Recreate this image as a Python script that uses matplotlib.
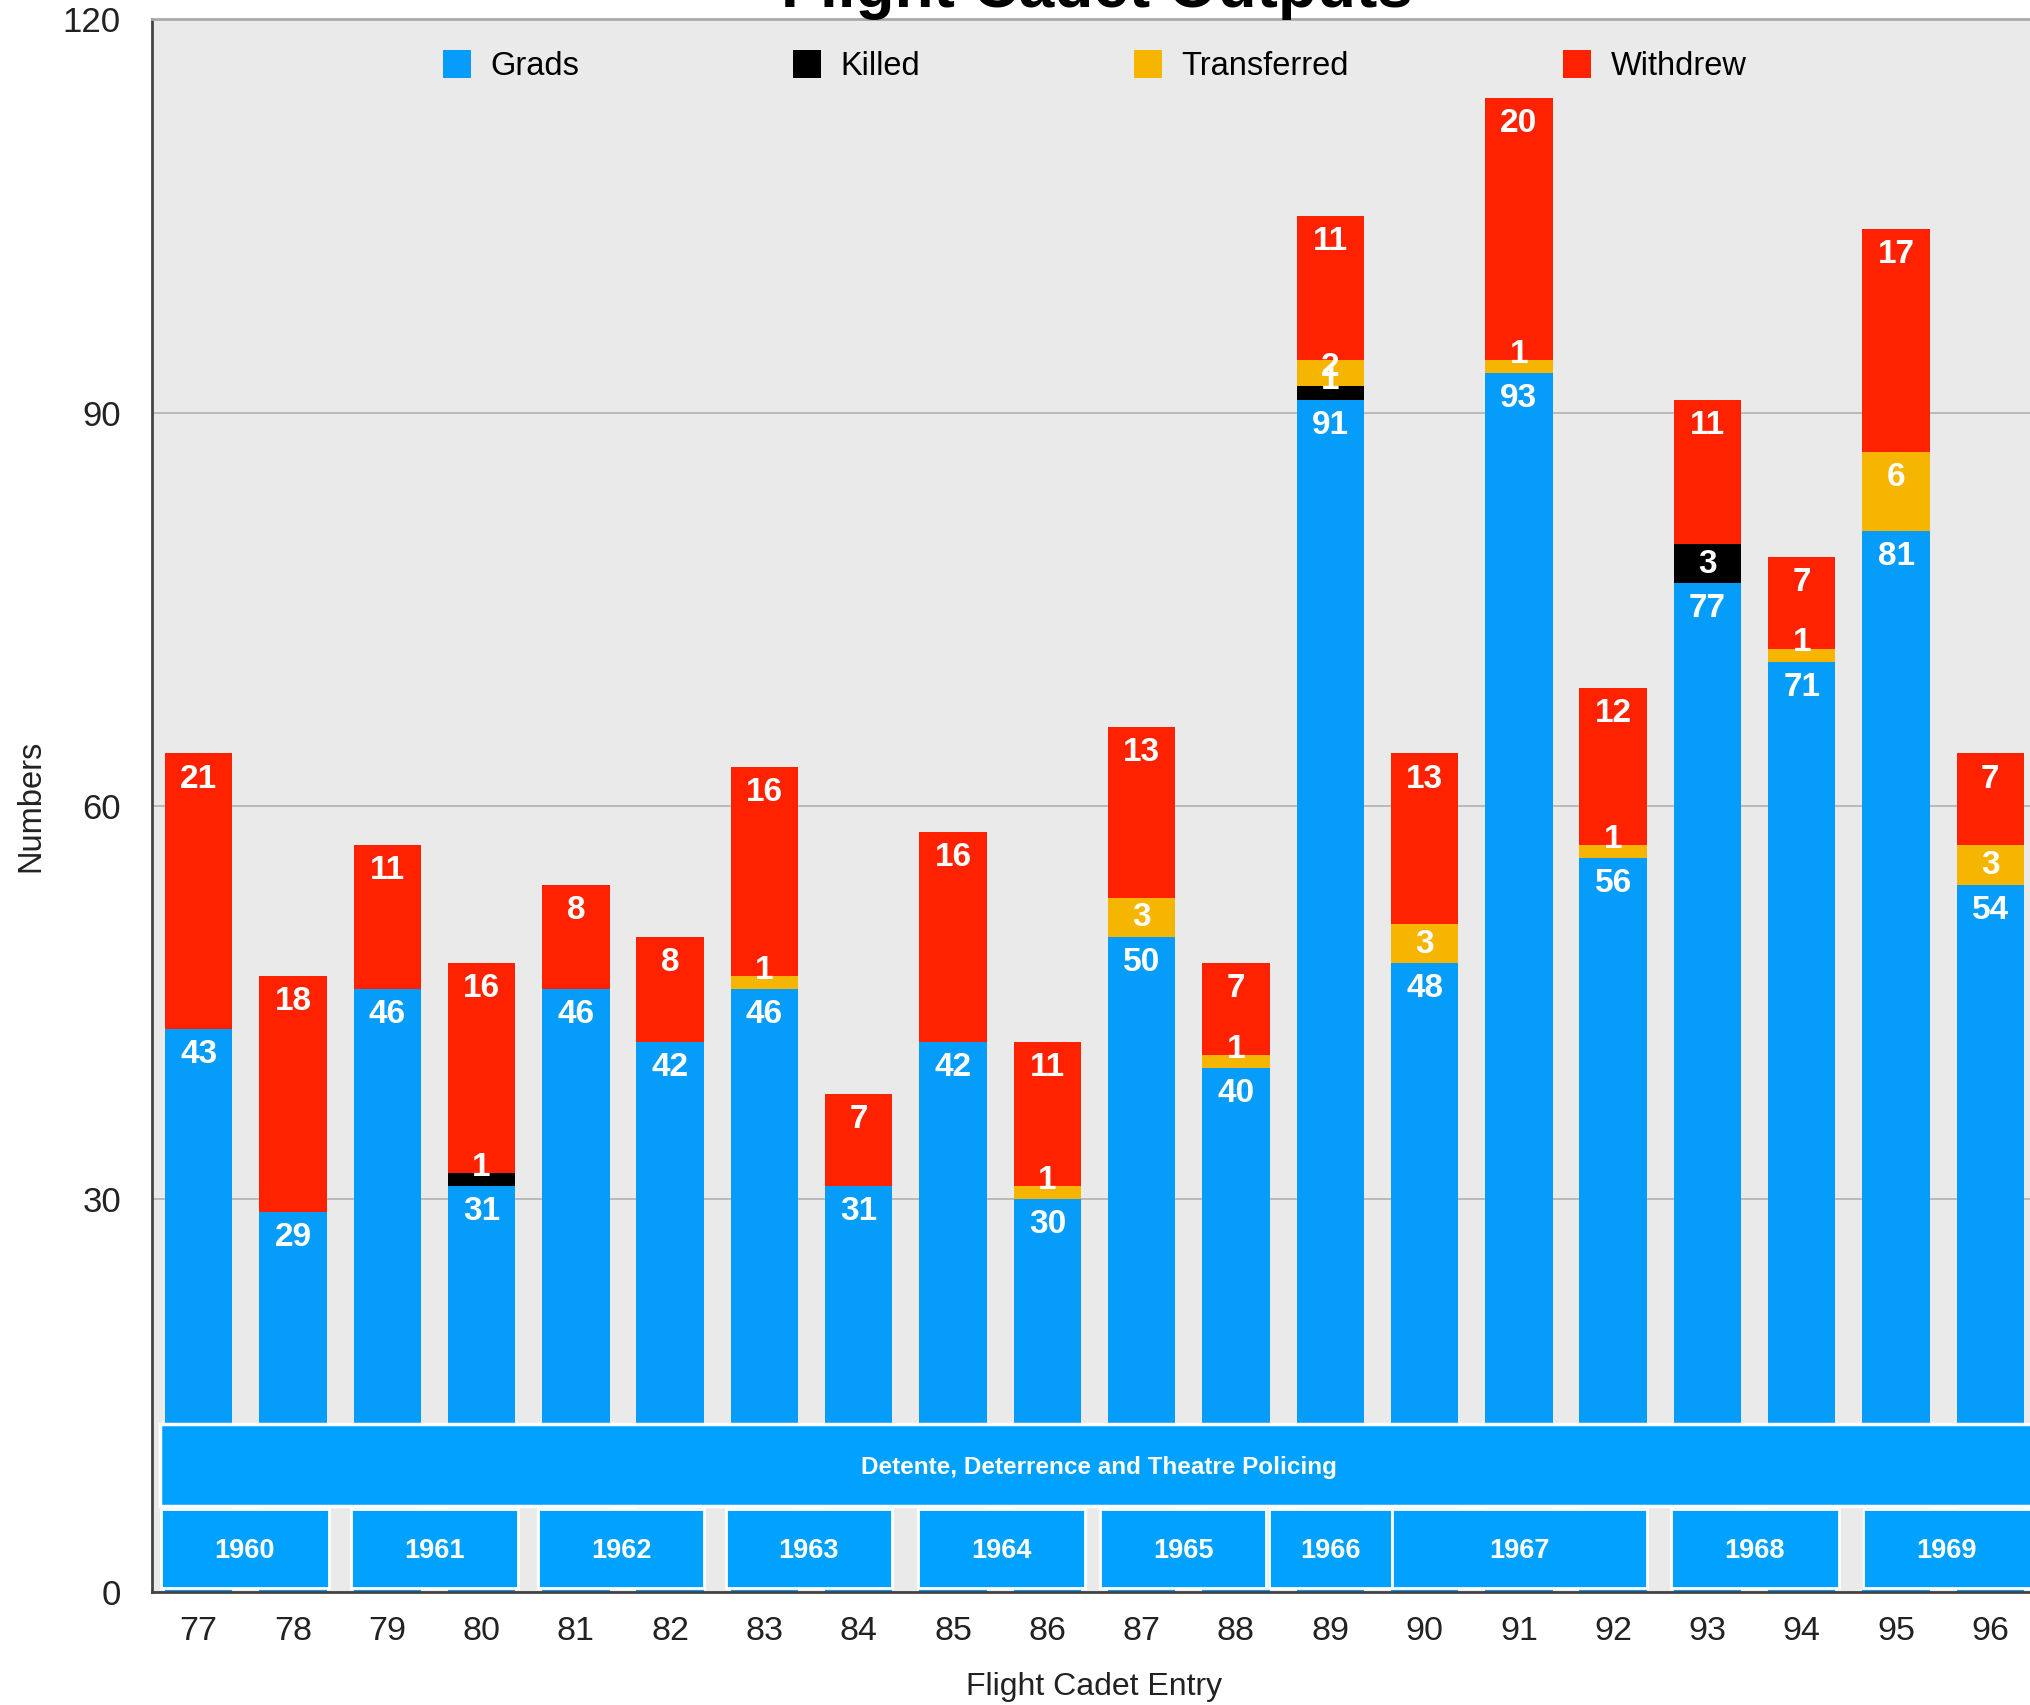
import matplotlib
matplotlib.use("Agg")
import matplotlib.pyplot as plt
from matplotlib.patches import Patch, Rectangle
import numpy as np

plt.rcParams['font.family'] = ['Liberation Sans', 'DejaVu Sans']

# ---- data ----
entries = ['77', '78', '79', '80', '81', '82', '83', '84', '85', '86',
           '87', '88', '89', '90', '91', '92', '93', '94', '95', '96']
grads       = [43, 29, 46, 31, 46, 42, 46, 31, 42, 30, 50, 40, 91, 48, 93, 56, 77, 71, 81, 54]
killed      = [0, 0, 0, 1, 0, 0, 0, 0, 0, 0, 0, 0, 1, 0, 0, 0, 3, 0, 0, 0]
transferred = [0, 0, 0, 0, 0, 0, 1, 0, 0, 1, 3, 1, 2, 3, 1, 1, 0, 1, 6, 3]
withdrew    = [21, 18, 11, 16, 8, 8, 16, 7, 16, 11, 13, 7, 11, 13, 20, 12, 11, 7, 17, 7]

series_names = ['Grads', 'Killed', 'Transferred', 'Withdrew']
series_colors = ['#069CF9', '#000000', '#F5B500', '#FF2200']

era_label = 'Detente, Deterrence and Theatre Policing'
years = ['1960', '1961', '1962', '1963', '1964', '1965', '1966', '1967', '1968', '1969']
year_x0 = [-0.40, 1.62, 3.60, 5.59, 7.63, 9.56, 11.35, 12.66, 15.61, 17.65]
year_x1 = [1.38, 3.39, 5.36, 7.35, 9.40, 11.32, 12.655, 15.36, 17.39, 19.43]

yticks = [0, 30, 60, 90, 120]

# ---- figure ----
W, H = 2030, 1705
fig = plt.figure(figsize=(W / 100, H / 100), dpi=100)
fig.patch.set_facecolor('white')
ax_left = 151.5 / W
ax_bottom = 1 - 1592.4 / H
ax_h = (1592.4 - 19.4) / H
ax_w = 1886.0 / W
ax = fig.add_axes([ax_left, ax_bottom, ax_w, ax_h])
ax.set_facecolor('#EAEAEA')

x = np.arange(len(entries))
bw = 0.714
series = [grads, killed, transferred, withdrew]
bottom = np.zeros(len(entries))
segments = []
for vals, col, name in zip(series, series_colors, series_names):
    v = np.array(vals, dtype=float)
    ax.bar(x, v, bw, bottom=bottom, color=col, edgecolor='none', zorder=2, label=name)
    segments.append((bottom.copy(), v))
    bottom = bottom + v

# value labels
for b, v in segments:
    for i in range(len(entries)):
        if v[i] <= 0:
            continue
        top = b[i] + v[i]
        yc = max(top - 1.95, b[i] + 1.45)
        ax.text(x[i], yc, f"{int(v[i])}", ha='center', va='center', color='white',
                fontsize=24, fontweight='bold', zorder=5)

ax.set_xlim(-0.5, len(entries) - 0.5)
ax.set_ylim(0, 120)
ax.set_yticks(yticks)
ax.set_yticklabels([str(t) for t in yticks])
ax.set_xticks(x)
ax.set_xticklabels(entries)
ax.tick_params(axis='y', length=0, pad=22, labelsize=25, labelcolor='#222222')
ax.tick_params(axis='x', length=0, pad=17, labelsize=24.5, labelcolor='#222222')
ax.grid(axis='y', color='#B5B5B5', linewidth=1.3)
ax.grid(axis='x', visible=False)
ax.set_axisbelow(True)

for s in ['left', 'bottom']:
    ax.spines[s].set_color('#444444')
    ax.spines[s].set_linewidth(2)
ax.spines['top'].set_color('#AAAAAA')
ax.spines['top'].set_linewidth(2)
ax.spines['right'].set_visible(False)

ax.set_xlabel('Flight Cadet Entry', fontsize=23, labelpad=18, color='#222222')
ax.set_ylabel('Numbers', fontsize=23.5, labelpad=12, color='#222222')

# era band
band_col = '#00A1FF'
ax.add_patch(Rectangle((-0.405, 6.6), 21, 12.85 - 6.6, facecolor=band_col,
                       edgecolor='white', linewidth=2.5, zorder=3))
ax.text(9.55, 9.55, era_label, ha='center', va='center', color='white',
        fontsize=17.5, fontweight='bold', zorder=6)

for lab, x0, x1 in zip(years, year_x0, year_x1):
    ax.add_patch(Rectangle((x0, 0.3), x1 - x0, 6.4 - 0.3, facecolor=band_col,
                           edgecolor='white', linewidth=2, zorder=3))
    ax.text((x0 + x1) / 2, 3.15, lab, ha='center', va='center', color='white',
            fontsize=19.5, fontweight='bold', zorder=6)

# legend
handles = [Patch(facecolor=c, edgecolor='none', label=n) for n, c in zip(series_names, series_colors)]
ax.legend(handles=handles, ncol=4, loc='center', bbox_to_anchor=(0.5, 0.9705),
          frameon=False, fontsize=23.5, columnspacing=6.55, handlelength=0.86,
          handleheight=0.95, handletextpad=0.6)

# title (mostly cut off at top)
fig.text(1097 / W, 1 - 6.5 / H, 'Flight Cadet Outputs', ha='center', va='baseline',
         fontsize=46, fontweight='bold', color='black')

fig.savefig('out.png', dpi=100)
